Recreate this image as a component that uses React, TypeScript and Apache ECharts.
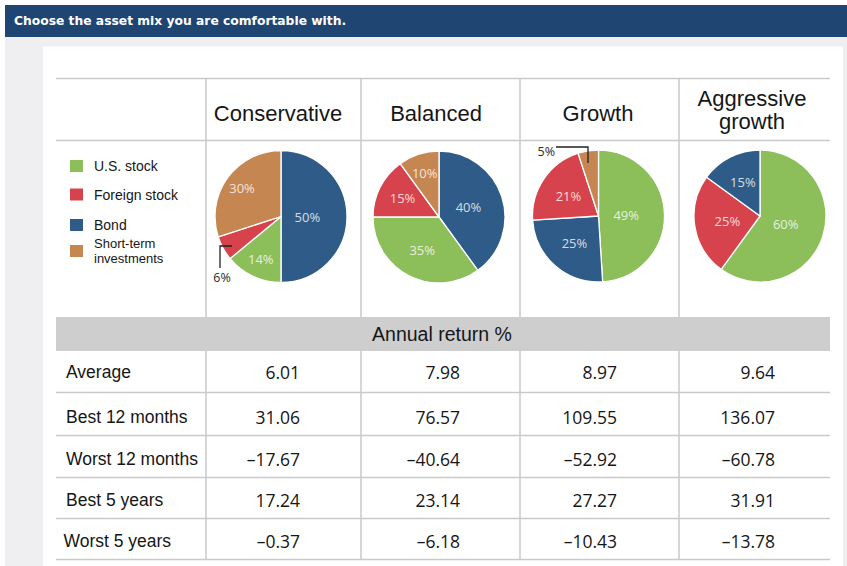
import React, { useEffect, useRef } from "react";
import * as echarts from "echarts";

// ---------- data ----------
const title = "Choose the asset mix you are comfortable with.";
const assetClasses = ["U.S. stock", "Foreign stock", "Bond", "Short-term\ninvestments"];
const portfolios = ["Conservative", "Balanced", "Growth", "Aggressive\ngrowth"];

// slices listed clockwise from 12 o'clock
const conservativeAssets = ["Bond", "U.S. stock", "Foreign stock", "Short-term\ninvestments"];
const conservativeValues = [50, 14, 6, 30];
const balancedAssets = ["Bond", "U.S. stock", "Foreign stock", "Short-term\ninvestments"];
const balancedValues = [40, 35, 15, 10];
const growthAssets = ["U.S. stock", "Bond", "Foreign stock", "Short-term\ninvestments"];
const growthValues = [49, 25, 21, 5];
const aggressiveAssets = ["U.S. stock", "Foreign stock", "Bond"];
const aggressiveValues = [60, 25, 15];

const bandLabel = "Annual return %";
const returnRows = ["Average", "Best 12 months", "Worst 12 months", "Best 5 years", "Worst 5 years"];
const conservativeReturns = [6.01, 31.06, -17.67, 17.24, -0.37];
const balancedReturns = [7.98, 76.57, -40.64, 23.14, -6.18];
const growthReturns = [8.97, 109.55, -52.92, 27.27, -10.43];
const aggressiveReturns = [9.64, 136.07, -60.78, 31.91, -13.78];

// ---------- styles / layout ----------
const assetColors = ["#8cbe5a", "#d7434c", "#2e5b88", "#c58651"];
const barColor = "#1f4573";
const pageGray = "#efeff1";
const gridColor = "#c9c9c9";
const bandColor = "#cecece";
const textColor = "#161616";
const SANS = "'Liberation Sans', Arial, sans-serif";
const HUMAN = "'Open Sans', 'Noto Sans', sans-serif";

const pieCenters = [
  [281, 216.5],
  [439, 217],
  [598.5, 216],
  [760, 216],
];
const pieR = 66;
// radial position of each inside label (fraction of radius)
const labelFactors = [
  [0.4, 0.72, 0.5, 0.73],
  [0.47, 0.56, 0.62, 0.7],
  [0.42, 0.55, 0.55, 0.5],
  [0.41, 0.5, 0.57],
];
// slices whose label is drawn as a callout instead
const callouts = [
  { series: 0, index: 2, pts: [[-49, 29.5], [-61, 29.5], [-61, 51.5]], text: [-59, 61], align: "center" },
  { series: 2, index: 3, pts: [[-10.5, -53], [-10.5, -69], [-42.5, -69]], text: [-43.5, -65], align: "right" },
];

const colLines = [206, 361, 520, 679];
const tableL = 56;
const tableR = 830;
const headerTop = 78.5;
const headerBottom = 140.5;
const bandTop = 317;
const bandBottom = 351;
const rowLines = [392.5, 435.5, 477.5, 518.5, 559.5];
const headerX = [278, 436, 598, 752];
const valueRightX = [300, 460, 617, 775];
const rowY = [372, 417, 459, 500, 540.5];
const rowLabelX = [66, 66, 66, 66, 63.5];
const legendTops = [158, 186.5, 217, 235.8];
const legendFontSizes = [14, 14, 14, 13];
const legendLineHeights = [14, 14, 14, 15.2];

const fmt = (v: number) => (v < 0 ? "\u2013" + Math.abs(v).toFixed(2) : v.toFixed(2));

export default function App() {
  const ref = useRef<HTMLDivElement>(null);

  useEffect(() => {
    if (!ref.current) return;
    const chart = echarts.init(ref.current, undefined, { renderer: "svg" });

    const pies = [
      { names: conservativeAssets, values: conservativeValues },
      { names: balancedAssets, values: balancedValues },
      { names: growthAssets, values: growthValues },
      { names: aggressiveAssets, values: aggressiveValues },
    ];
    const returns = [conservativeReturns, balancedReturns, growthReturns, aggressiveReturns];

    const midAngle = (s: number, d: number) => {
      const vals = pies[s].values;
      const total = vals.reduce((a, b) => a + b, 0);
      let cum = 0;
      for (let k = 0; k < d; k++) cum += vals[k];
      return ((cum + vals[d] / 2) / total) * Math.PI * 2;
    };

    const series: any[] = pies.map((p, s) => ({
      type: "pie",
      center: pieCenters[s],
      radius: pieR,
      startAngle: 90,
      clockwise: true,
      silent: true,
      avoidLabelOverlap: false,
      itemStyle: { borderColor: "#ffffff", borderWidth: 1.3 },
      label: {
        show: true,
        position: "inside",
        formatter: "{c}%",
        color: "rgba(255,255,255,0.8)",
        fontFamily: HUMAN,
        fontSize: 13,
      },
      labelLine: { show: false },
      emphasis: { disabled: true },
      labelLayout: (params: any) => {
        const d = params.dataIndex;
        const a = midAngle(s, d);
        const f = labelFactors[s][d];
        return {
          x: pieCenters[s][0] + f * pieR * Math.sin(a),
          y: pieCenters[s][1] - f * pieR * Math.cos(a),
        };
      },
      data: p.names.map((n, j) => {
        const hidden = callouts.some((c) => c.series === s && c.index === j);
        return {
          name: n,
          value: p.values[j],
          itemStyle: { color: assetColors[assetClasses.indexOf(n)] },
          label: hidden ? { show: false } : undefined,
        };
      }),
    }));

    const g: any[] = [];
    // page background
    g.push({ type: "rect", z: -10, shape: { x: 5, y: 5, width: 842, height: 561 }, style: { fill: pageGray } });
    g.push({ type: "rect", z: -9, shape: { x: 5, y: 5, width: 842, height: 32 }, style: { fill: barColor } });
    g.push({ type: "rect", z: -9, shape: { x: 43, y: 46.5, width: 800, height: 520 }, style: { fill: "#ffffff" } });
    g.push({
      type: "text",
      z: 1,
      x: 14,
      y: 21,
      style: {
        text: title,
        fill: "#ffffff",
        fontFamily: "'DejaVu Sans', Verdana, sans-serif",
        fontWeight: "bold",
        fontSize: 12.3,
        align: "left",
        verticalAlign: "middle",
      },
    });
    // band
    g.push({
      type: "rect",
      z: -8,
      shape: { x: tableL, y: bandTop, width: tableR - tableL, height: bandBottom - bandTop },
      style: { fill: bandColor },
    });
    g.push({
      type: "text",
      z: 1,
      x: 442,
      y: 334,
      style: { text: bandLabel, fill: textColor, fontFamily: SANS, fontSize: 19.5, align: "center", verticalAlign: "middle" },
    });
    // horizontal lines
    [headerTop, headerBottom, ...rowLines].forEach((y) =>
      g.push({
        type: "line",
        z: -7,
        shape: { x1: tableL, y1: y, x2: tableR, y2: y },
        style: { stroke: gridColor, lineWidth: 1.5 },
      })
    );
    // vertical lines
    colLines.forEach((x) => {
      g.push({ type: "line", z: -7, shape: { x1: x, y1: headerTop, x2: x, y2: bandTop }, style: { stroke: gridColor, lineWidth: 1.5 } });
      g.push({ type: "line", z: -7, shape: { x1: x, y1: bandBottom, x2: x, y2: rowLines[rowLines.length - 1] }, style: { stroke: gridColor, lineWidth: 1.5 } });
    });
    // headers
    portfolios.forEach((name, i) =>
      g.push({
        type: "text",
        z: 1,
        x: headerX[i],
        y: name.includes("\n") ? 110 : 113,
        style: { text: name, fill: textColor, fontFamily: SANS, fontSize: 22, lineHeight: 23, align: "center", verticalAlign: "middle" },
      })
    );
    // rows
    returnRows.forEach((r, k) => {
      g.push({
        type: "text",
        z: 1,
        x: rowLabelX[k],
        y: rowY[k],
        style: { text: r, fill: textColor, fontFamily: SANS, fontSize: 17.5, align: "left", verticalAlign: "middle" },
      });
      returns.forEach((col, i) =>
        g.push({
          type: "text",
          z: 1,
          x: valueRightX[i],
          y: rowY[k],
          style: { text: fmt(col[k]), fill: textColor, fontFamily: HUMAN, fontSize: 17.5, align: "right", verticalAlign: "middle" },
        })
      );
    });
    // callouts for small slices
    callouts.forEach((c) => {
      const [cx, cy] = pieCenters[c.series];
      g.push({
        type: "polyline",
        z: 20,
        shape: { points: c.pts.map(([dx, dy]) => [cx + dx, cy + dy]) },
        style: { stroke: "#222222", lineWidth: 1.3, fill: null },
      });
      g.push({
        type: "text",
        z: 20,
        x: cx + c.text[0],
        y: cy + c.text[1],
        style: {
          text: pies[c.series].values[c.index] + "%",
          fill: "#2a2a2a",
          fontFamily: HUMAN,
          fontSize: 12.5,
          align: c.align,
          verticalAlign: "middle",
        },
      });
    });

    const legend = assetClasses.map((name, i) => ({
      data: [name],
      orient: "vertical",
      left: 68,
      top: legendTops[i],
      padding: 0,
      itemWidth: 15,
      itemHeight: 14,
      icon: "rect",
      selectedMode: false,
      textStyle: {
        fontFamily: SANS,
        fontSize: legendFontSizes[i],
        color: textColor,
        lineHeight: legendLineHeights[i],
        padding: [0, 0, 0, 5],
      },
    }));

    chart.setOption({
      animation: false,
      backgroundColor: "#ffffff",
      legend,
      series,
      graphic: { elements: g },
    });

    return () => chart.dispose();
  }, []);

  return (
    <div
      ref={ref}
      style={{ position: "fixed", left: 0, top: 0, width: 847, height: 566 }}
    />
  );
}
